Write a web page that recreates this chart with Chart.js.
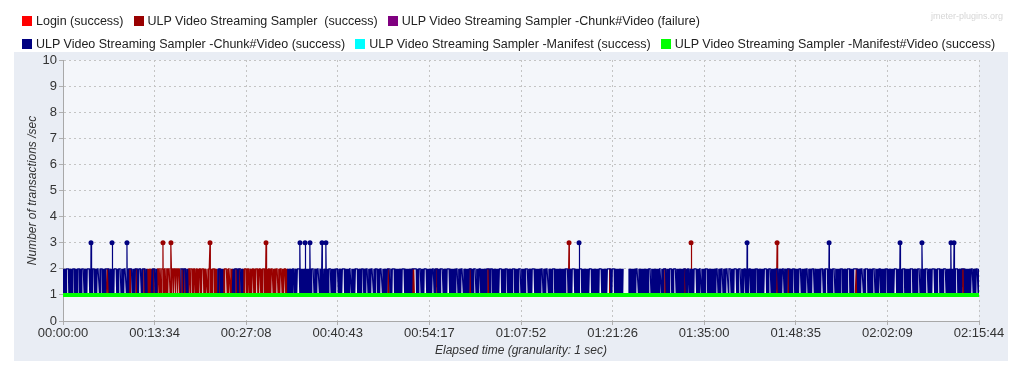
<!DOCTYPE html>
<html>
<head>
<meta charset="utf-8">
<title>Transactions per second</title>
<script src="https://cdn.jsdelivr.net/npm/chart.js@4.4.1/dist/chart.umd.min.js"></script>
<style>
  html, body { margin: 0; padding: 0; background: #fff; }
  #wrap { position: relative; width: 1024px; height: 377px; overflow: hidden; }
  #legend { position: absolute; left: 22px; top: 9px; font: 12.5px 'Liberation Sans', Arial, sans-serif; color: #222; }
  .row { height: 23px; display: flex; align-items: center; white-space: pre; }
  .item { display: flex; align-items: center; margin-right: 10px; }
  .sw { width: 10px; height: 10px; margin-right: 4px; }
  #mark { position: absolute; right: 21px; top: 11px; font: 9px 'Liberation Sans', Arial, sans-serif; color: #d6d6d6; }
</style>
</head>
<body>
<div id="wrap">
  <canvas id="chart" width="1024" height="377"></canvas>
  <div id="legend"></div>
  <div id="mark">jmeter-plugins.org</div>
</div>
<script>
const xTickLabels = ['00:00:00', '00:13:34', '00:27:08', '00:40:43', '00:54:17', '01:07:52',
                     '01:21:26', '01:35:00', '01:48:35', '02:02:09', '02:15:44'];

const seriesNames = [
    'Login (success)',
    'ULP Video Streaming Sampler  (success)',
    'ULP Video Streaming Sampler -Chunk#Video (failure)',
    'ULP Video Streaming Sampler -Chunk#Video (success)',
    'ULP Video Streaming Sampler -Manifest (success)',
    'ULP Video Streaming Sampler -Manifest#Video (success)'
];
const seriesColors = ['#ff0000', '#990000', '#800080', '#000080', '#00ffff', '#00ff00'];
const legendRows = [[0, 1, 2], [3, 4, 5]];

// all times in seconds from start

// Chunk#Video (success): flips between 1 and 2 tx/s, except where noted
const chunkPeaks = [249, 436, 569, 2107, 2152, 2196, 2303, 2338, 4588, 6082, 6811, 7442, 7637, 7895, 7922];
const chunkSteady = [38, 92, 136, 175, 225, 269, 314, 344, 389, 462, 507, 551, 602, 685,
    2048, 2089, 2223, 2267, 2374, 2433, 2490, 2552, 2611, 2665, 2700, 2745, 2789, 2825, 2937,
    3026, 3130, 3174, 3219, 3292, 3367, 3426, 3500, 3545, 3619, 3663, 3708, 3781, 3812, 3885,
    3945, 4004, 4063, 4123, 4181, 4256, 4301, 4359, 4478, 4537, 4597, 4686, 4774, 4848, 4893,
    5101, 5219, 5308, 5397, 5441, 5560, 5619, 5664, 5723, 5812, 5856, 5901, 5930, 5975, 6019,
    6064, 6108, 6168, 6242, 6286, 6404, 6493, 6553, 6612, 6671, 6746, 6790, 6849, 6924, 6982,
    7042, 7101, 7146, 7205, 7264, 7324, 7397, 7471, 7546, 7605, 7679, 7738, 7783, 7842, 7946,
    8005, 8080, 8124];
const chunkMissing = [[4982, 5026]];

// Sampler (success): busy spans where it flips 1/2, short flickers elsewhere, otherwise 1
const samplerBusy = [[750, 790], [836, 1040], [1111, 1369], [1423, 1511], [1600, 1992]];
const samplerSteady = [850, 862, 880, 905, 922, 940, 975, 996, 1015, 1030, 1125, 1144, 1165,
    1190, 1218, 1240, 1278, 1300, 1340, 1440, 1455, 1480, 1620, 1650, 1690, 1720, 1751, 1780,
    1830, 1860, 1900, 1940, 1970];
const samplerFlicker = [400, 590, 650, 720, 805, 1060, 1085, 1395, 1540, 1570, 2892, 3112, 3323,
    3619, 3779, 4863, 5352, 5530, 6345, 6449, 7057, 8002];
const samplerPeaks = [889, 960, 1307, 1805, 4499, 5584, 6349];

const loginTimes = [0];
const loginValues = [1];
const failureTimes = [];
const failureValues = [];
const manifestTimes = [0, 8144];
const manifestValues = [1, 1];
const manifestVideoTimes = [0, 8144];
const manifestVideoValues = [1, 1];

const STEP = 4;

function toSec(label) {
    const [h, m, s] = label.split(':').map(Number);
    return h * 3600 + m * 60 + s;
}
const xTickValues = xTickLabels.map(toSec);
const xMax = xTickValues[xTickValues.length - 1];

const near = (list, t, half) => list.some(c => Math.abs(c - t) <= half);
const inside = (spans, t) => spans.some(([a, b]) => t >= a && t <= b);

function chunkPoints() {
    const pts = [];
    let flip = 0;
    for (let t = 0; t <= xMax; t += STEP) {
        let y;
        if (inside(chunkMissing, t)) y = null;
        else if (inside(samplerBusy, t)) y = 1;
        else if (near(chunkSteady, t, 7) || near(samplerFlicker, t, 8)) y = 2;
        else y = (flip++ % 2) ? 1 : 2;
        pts.push({ x: t, y });
    }
    chunkPeaks.forEach(p => pts.push({ x: p, y: 3 }));
    return pts.sort((a, b) => a.x - b.x);
}

function samplerPoints() {
    const pts = [];
    let flip = 0;
    for (let t = 0; t <= xMax; t += STEP) {
        let y;
        if (inside(chunkMissing, t)) y = null;
        else if (inside(samplerBusy, t)) y = near(samplerSteady, t, 4) ? 2 : ((flip++ % 2) ? 1 : 2);
        else if (near(samplerFlicker, t, 8)) y = (flip++ % 2) ? 1 : 2;
        else y = 1;
        pts.push({ x: t, y });
    }
    samplerPeaks.forEach(p => pts.push({ x: p, y: 3 }));
    return pts.sort((a, b) => a.x - b.x);
}

const zip = (xs, ys) => xs.map((x, i) => ({ x, y: ys[i] }));

const seriesData = [
    zip(loginTimes, loginValues),
    samplerPoints(),
    zip(failureTimes, failureValues),
    chunkPoints(),
    zip(manifestTimes, manifestValues),
    zip(manifestVideoTimes, manifestVideoValues)
];
const drawOrder = [5, 3, 4, 2, 1, 0];
const lineWidths = [1, 1.2, 1, 1.2, 3, 4];

// legend
const legendEl = document.getElementById('legend');
legendEl.innerHTML = legendRows.map(row => `
    <div class="row">${row.map(i => `
        <span class="item"><span class="sw" style="background:${seriesColors[i]}"></span>${seriesNames[i]}</span>`).join('')}
    </div>`).join('');

const panelBg = {
    id: 'panelBg',
    beforeDraw(chart) {
        const { ctx, chartArea } = chart;
        ctx.save();
        ctx.fillStyle = '#e9edf4';
        ctx.fillRect(14, 52, 994, 309);
        ctx.fillStyle = '#f4f6fa';
        ctx.fillRect(chartArea.left, chartArea.top, chartArea.right - chartArea.left, chartArea.bottom - chartArea.top);
        ctx.restore();
    }
};

const FONT = "'Liberation Sans', Arial, sans-serif";

new Chart(document.getElementById('chart'), {
    type: 'line',
    data: {
        datasets: seriesNames.map((name, i) => ({
            label: name,
            data: seriesData[i],
            borderColor: seriesColors[i],
            backgroundColor: seriesColors[i],
            borderWidth: lineWidths[i],
            order: drawOrder[i],
            fill: false,
            tension: 0,
            spanGaps: false,
            pointRadius: ctx => (ctx.raw && ctx.raw.y === 3) ? 2.5 : 0,
            pointBorderWidth: 0
        }))
    },
    options: {
        responsive: false,
        animation: false,
        events: [],
        layout: { padding: { top: 60, left: 14, right: 45, bottom: 16 } },
        plugins: { legend: { display: false }, tooltip: { enabled: false } },
        scales: {
            x: {
                type: 'linear',
                min: 0,
                max: xMax,
                afterFit: s => { s.height = 40; },
                afterBuildTicks: s => { s.ticks = xTickValues.map(v => ({ value: v })); },
                ticks: {
                    autoSkip: false,
                    maxRotation: 0,
                    padding: 1,
                    color: '#333',
                    font: { family: FONT, size: 13 },
                    callback: (v, i) => xTickLabels[i]
                },
                grid: { color: '#c4c4c4', tickLength: 4, tickColor: '#b0b0b0' },
                border: { color: '#a8a8a8', width: 1, dash: [2, 3] },
                title: {
                    display: true,
                    text: 'Elapsed time (granularity: 1 sec)',
                    color: '#333',
                    font: { family: FONT, size: 12, style: 'italic' },
                    padding: { top: 0, bottom: 3 }
                }
            },
            y: {
                min: 0,
                max: 10,
                afterFit: s => { s.width = 49; },
                ticks: {
                    stepSize: 1,
                    padding: 2,
                    color: '#333',
                    font: { family: FONT, size: 13 }
                },
                grid: { color: '#c4c4c4', tickLength: 4, tickColor: '#b0b0b0' },
                border: { color: '#a8a8a8', width: 1, dash: [2, 3] },
                title: {
                    display: true,
                    text: 'Number of transactions /sec',
                    color: '#333',
                    font: { family: FONT, size: 12, style: 'italic' },
                    padding: { top: 11, bottom: 0 }
                }
            }
        }
    },
    plugins: [panelBg]
});
</script>
</body>
</html>
